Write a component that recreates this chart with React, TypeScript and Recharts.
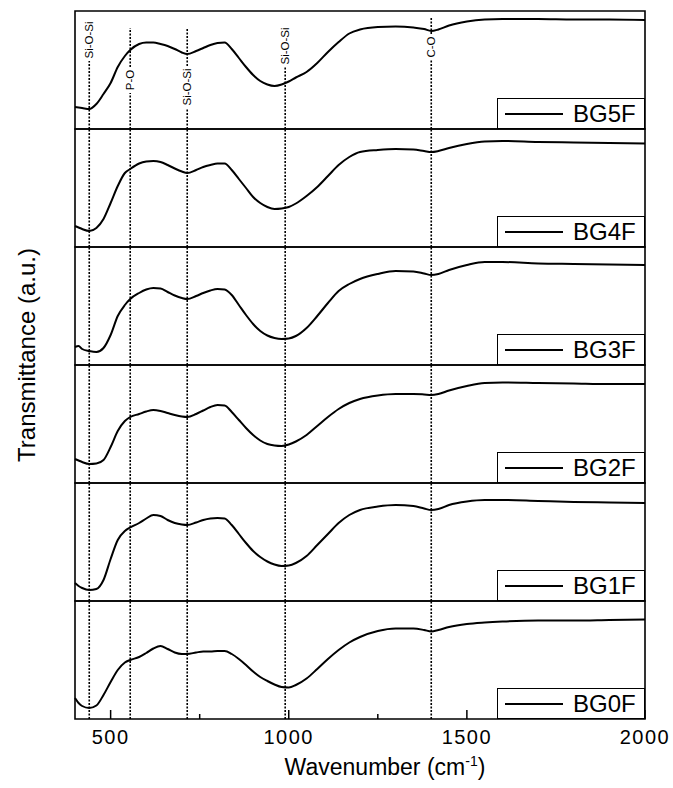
import React from 'react';
import { LineChart, Line, XAxis, YAxis, ReferenceLine, ReferenceArea, ReferenceDot } from 'recharts';

// FTIR spectra, one stacked panel per glass composition (top to bottom)
const sampleNames = ['BG5F', 'BG4F', 'BG3F', 'BG2F', 'BG1F', 'BG0F'];

const wavenumbers = [
  400, 410, 420, 440, 460, 480, 500, 520, 540, 555,
  580, 600, 620, 640, 660, 680, 700, 715, 740, 760,
  780, 800, 820, 840, 860, 880, 900, 920, 940, 960,
  980, 1000, 1020, 1050, 1080, 1110, 1140, 1170, 1200, 1250,
  1300, 1350, 1380, 1400, 1420, 1450, 1500, 1550, 1600, 1700,
  1800, 1900, 2000,
];

const bg5f = [
  22, 21.5, 21, 20, 25, 35, 46, 62, 73, 79,
  85, 86.5, 86.5, 85, 83, 80, 76.5, 75, 78, 81,
  84, 86, 86.5, 80, 71, 62, 54, 48, 44.5, 43,
  44.5, 47.5, 51.5, 57, 66, 77, 87, 95.5, 99.5, 102,
  102.5, 101.5, 100, 98, 99.5, 103.5, 107.5, 109.5, 110, 110,
  109.5, 109.5, 109,
];

const bg4f = [
  21, 19.5, 18, 16, 19, 28, 44, 61, 74, 78,
  83.5, 85.5, 86, 85, 82, 78.5, 75.5, 74, 77, 80,
  82, 83.5, 83.5, 77, 68, 59, 50, 44, 40, 38,
  38.5, 40, 43.5, 51, 60, 71, 82, 90, 95, 97,
  98, 97.5, 96, 95, 96, 99, 103, 105.5, 106, 105,
  104.5, 104, 103.5,
];

const bg3f = [
  18, 19, 16, 14, 13, 17, 30, 49, 60, 66,
  72, 75.5, 77, 76.5, 73, 69.5, 67, 66, 69, 72,
  74.5, 76, 75.5, 70, 60, 50, 41, 34, 29.5, 27,
  26, 26.5, 29, 37, 49, 62, 74, 81, 86, 91,
  94, 93.5, 91.5, 90, 91, 95, 100, 103, 103, 101.5,
  101, 100.5, 100,
];

const bg2f = [
  24, 22.5, 21, 19, 19.5, 23, 36, 52, 62, 66,
  69, 71.5, 73, 72, 70, 68, 66.5, 66, 69, 72.5,
  76, 78, 77.5, 71, 63, 55, 48, 42.5, 39, 37.5,
  37, 38.5, 41.5, 48, 57, 66, 74, 80, 84, 87.5,
  89, 89, 88.5, 88, 89, 92.5, 97, 100, 100.5, 100,
  99.5, 99, 99,
];

const bg1f = [
  18, 15, 13, 11, 12, 21, 42, 61, 70, 73.5,
  78, 82.5, 86, 85, 81, 78, 76.5, 76, 78.5, 81,
  82.5, 83, 82.5, 76, 67, 58, 50, 44, 39.5, 36.5,
  35, 35.5, 38, 45, 56, 67, 78, 86, 91, 94.5,
  96, 95, 92.5, 91, 92, 96, 99.5, 101, 101, 100,
  99, 98.5, 98,
];

const bg0f = [
  21, 16, 13, 11, 13.5, 24, 37, 49, 56.5, 59,
  62, 66, 70.5, 73, 70, 66.5, 65, 65, 66.5, 67.5,
  67.5, 68, 68, 65, 60, 54, 47.5, 42, 38, 34.5,
  32, 31.5, 34, 40.5, 50, 60, 69, 76.5, 82, 88,
  90.5, 90.5, 89, 87.5, 89, 92, 95, 96.5, 97.5, 98.5,
  98.5, 99, 99.5,
];

const seriesValues = [bg5f, bg4f, bg3f, bg2f, bg1f, bg0f];

// Band assignments marked with dotted lines
const bandPositions = [440, 555, 715, 990, 1400];
const bandLabels = ['Si-O-Si', 'P-O', 'Si-O-Si', 'Si-O-Si', 'C-O'];

const xTicks = [500, 750, 1000, 1250, 1500, 1750, 2000];

const rows = wavenumbers.map((wn, i) => {
  const row: Record<string, number> = { wn };
  sampleNames.forEach((name, s) => {
    row[name] = seriesValues[s][i];
  });
  return row;
});

// layout
const FONT = '"Liberation Sans", Arial, Helvetica, sans-serif';
const CHART_W = 673;
const PLOT_LEFT = 75;
const PLOT_RIGHT = 645;
const PLOT_TOP = 11;
const PANEL_H = 118;
const AXIS_H = 70;
const PAD = 2;

// where the band labels sit inside the top panel (in panel units)
const labelCenters = [89, 49, 42, 83, 82];
const labelUpperEnds = [null, 101, 101, null, 111];

const XTick = (props: any) => {
  const { x, y, payload } = props;
  const major = payload.value % 500 === 0;
  return (
    <g>
      <line x1={x} y1={y} x2={x} y2={y - (major ? 9 : 5)} stroke="#000" strokeWidth={1.5} />
      {major && (
        <text x={x} y={y + 25} textAnchor="middle" fontSize={20} fontFamily={FONT} fill="#000" letterSpacing={1.5}>
          {payload.value}
        </text>
      )}
    </g>
  );
};

const XTitle = (props: any) => {
  const { viewBox } = props;
  const cx = viewBox.x + viewBox.width / 2 + 25;
  return (
    <text x={cx} y={viewBox.y + 56} textAnchor="middle" fontSize={23} fontFamily={FONT} fill="#000">
      Wavenumber (cm
      <tspan fontSize={14} dy={-9}>-1</tspan>
      <tspan dy={9}>)</tspan>
    </text>
  );
};

const BandLabel = ({ cx, cy, text }: any) => (
  <text
    x={cx}
    y={cy}
    transform={`rotate(-90 ${cx} ${cy})`}
    textAnchor="middle"
    dominantBaseline="central"
    fontSize={11.5}
    fontFamily={FONT}
    fill="#000"
  >
    {text}
  </text>
);

const dotted = { stroke: '#000', strokeWidth: 1.6, strokeDasharray: '2 1.5' };

function Panel({ name, index }: { name: string; index: number }) {
  const last = index === sampleNames.length - 1;
  const first = index === 0;
  const height = PANEL_H + PAD + (last ? AXIS_H : PAD);

  return (
    <div style={{ position: 'absolute', left: 0, top: PLOT_TOP + index * PANEL_H - PAD }}>
      <LineChart
        width={CHART_W}
        height={height}
        data={rows}
        margin={{ top: PAD, right: CHART_W - PLOT_RIGHT, bottom: last ? 0 : PAD, left: PLOT_LEFT }}
      >
        <XAxis
          dataKey="wn"
          type="number"
          domain={[400, 2000]}
          ticks={xTicks}
          hide={!last}
          height={AXIS_H}
          axisLine={false}
          tickLine={false}
          tickSize={0}
          tickMargin={0}
          tick={<XTick />}
          label={{ content: <XTitle /> }}
        />
        <YAxis type="number" domain={[0, PANEL_H]} hide allowDataOverflow />
        <ReferenceArea x1={400} x2={2000} y1={0} y2={PANEL_H} fill="none" stroke="#000" strokeWidth={1.6} />

        {bandPositions.map((wn, b) => {
          if (!first) {
            return <ReferenceLine key={wn} x={wn} {...dotted} />;
          }
          const half = bandLabels[b].length > 3 ? 21 : 13;
          const mid = labelCenters[b];
          const upper = labelUpperEnds[b];
          return (
            <React.Fragment key={wn}>
              <ReferenceLine segment={[{ x: wn, y: 0 }, { x: wn, y: mid - half }]} {...dotted} />
              {upper !== null && (
                <ReferenceLine segment={[{ x: wn, y: mid + half }, { x: wn, y: upper }]} {...dotted} />
              )}
              <ReferenceDot
                x={wn}
                y={mid}
                r={0}
                shape={(p: any) => <BandLabel cx={p.cx} cy={p.cy} text={bandLabels[b]} />}
              />
            </React.Fragment>
          );
        })}

        <Line
          type="monotone"
          dataKey={name}
          stroke="#000"
          strokeWidth={2}
          dot={false}
          isAnimationActive={false}
        />
      </LineChart>

      <div
        style={{
          position: 'absolute',
          left: 497,
          top: PAD + PANEL_H - 31,
          width: PLOT_RIGHT - 497,
          height: 31,
          boxSizing: 'border-box',
          border: '1.5px solid #000',
          background: '#fff',
          display: 'flex',
          alignItems: 'center',
          fontFamily: FONT,
          fontSize: 24,
          color: '#000',
        }}
      >
        <span style={{ display: 'inline-block', width: 58, borderTop: '2px solid #000', marginLeft: 7, marginRight: 10 }} />
        <span>{name}</span>
      </div>
    </div>
  );
}

export default function App() {
  return (
    <div style={{ position: 'absolute', left: 0, top: 0, width: 673, height: 788, background: '#fff', overflow: 'hidden' }}>
      {sampleNames.map((name, i) => (
        <Panel key={name} name={name} index={i} />
      ))}
      <div
        style={{
          position: 'absolute',
          left: 27,
          top: 355,
          transform: 'translate(-50%, -50%) rotate(-90deg)',
          whiteSpace: 'nowrap',
          fontFamily: FONT,
          fontSize: 24,
          color: '#000',
        }}
      >
        Transmittance (a.u.)
      </div>
    </div>
  );
}
